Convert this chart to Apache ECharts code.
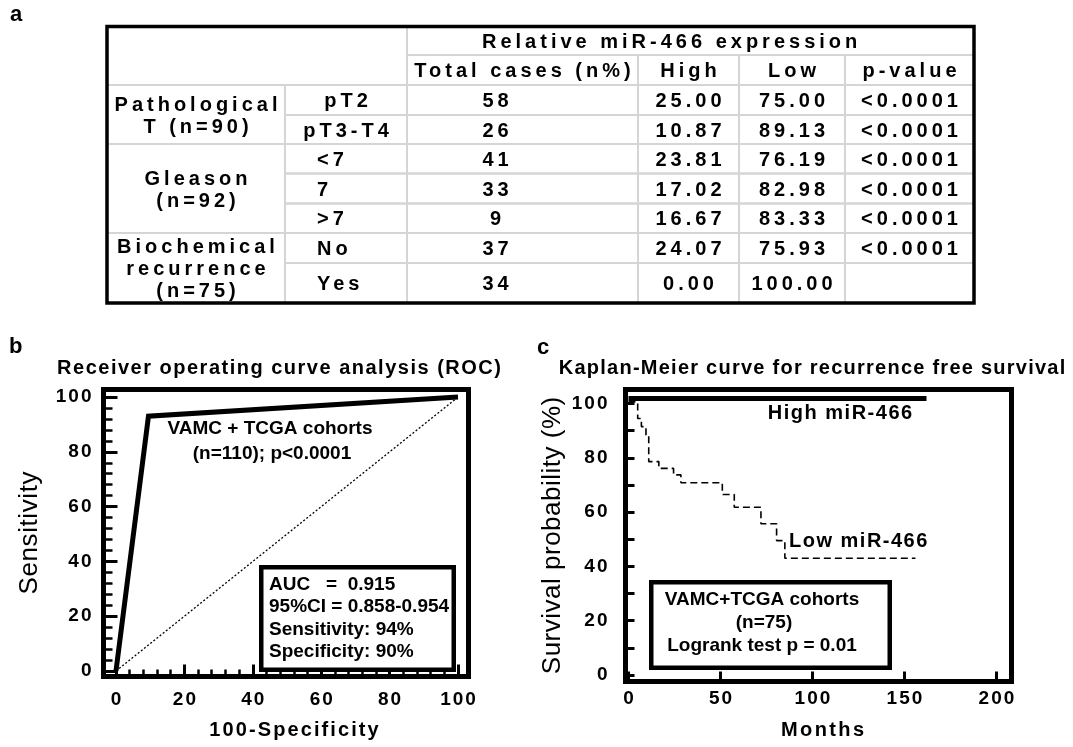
<!DOCTYPE html>
<html><head><meta charset="utf-8">
<script src="https://cdn.jsdelivr.net/npm/echarts@6/dist/echarts.min.js"></script>
<style>html,body{margin:0;padding:0;background:#fff}#c{width:1073px;height:747px}</style>
</head><body><div id="c"></div>
<script>
// ---------------- data ----------------
const tableTitle = 'Relative miR-466 expression';
const columnHeaders = ['Total cases (n%)', 'High', 'Low', 'p-value'];
const groupLabels = ['Pathological\nT (n=90)', 'Gleason\n(n=92)', 'Biochemical\nrecurrence\n(n=75)'];
const groupRowCounts = [2, 3, 2];
const subgroups = ['pT2', 'pT3-T4', '<7', '7', '>7', 'No', 'Yes'];
const totalCases = [58, 26, 41, 33, 9, 37, 34];
const highPct = [25.00, 10.87, 23.81, 17.02, 16.67, 24.07, 0.00];
const lowPct = [75.00, 89.13, 76.19, 82.98, 83.33, 75.93, 100.00];
const pValues = ['<0.0001', '<0.0001', '<0.0001', '<0.0001', '<0.0001', '<0.0001', ''];

const rocFalsePos = [0, 9.5, 100];
const rocSensitivity = [0, 93, 100];
const chanceX = [0, 100];
const chanceY = [0, 100];
const rocTickLabels = [0, 20, 40, 60, 80, 100];
const rocMinorTicks = [4, 8, 12, 16, 24, 28, 32, 36, 44, 48, 52, 56, 64, 68, 72, 76, 84, 88, 92, 96];
const rocStats = ['AUC   =  0.915', '95%CI = 0.858-0.954', 'Sensitivity: 94%', 'Specificity: 90%'];
const rocCohort = ['VAMC + TCGA cohorts', '(n=110); p<0.0001'];

const highMonths = [0, 162];
const highSurvival = [101.8, 101.8];
const lowMonths = [0, 5, 7, 9.5, 11, 16.5, 24.5, 28.5, 51, 57.5, 72, 80.5, 85, 156];
const lowSurvival = [100.7, 94.5, 91.5, 88.4, 78.6, 76.1, 73.7, 70.8, 66.5, 61.8, 55.7, 49.5, 43, 43];
const kmMonthTicks = [0, 50, 100, 150, 200];
const kmSurvivalLabels = [0, 20, 40, 60, 80, 100];
const kmSurvivalTicks = [0, 10, 20, 30, 40, 50, 60, 70, 80, 90, 100];
const kmCohort = ['VAMC+TCGA cohorts', '(n=75)', 'Logrank test p = 0.01'];

// ---------------- text tracking (letter spacing) ----------------
const FONT = '"Liberation Sans", Arial, sans-serif';
const SPACING = {};
function spaced(text, size, px) {
  String(text).split('\n').forEach(t => { SPACING[size + '|' + t] = px; });
  return text;
}
(function () {
  const P = CanvasRenderingContext2D.prototype;
  const orig = P.fillText;
  P.fillText = function (text, x, y) {
    const m = /(\d+(?:\.\d+)?)px/.exec(this.font);
    const px = SPACING[(m ? +m[1] : 0) + '|' + text];
    if (px && ('letterSpacing' in this)) {
      const a = this.textAlign;
      let dx = 0;
      if (a === 'center') dx = px / 2; else if (a === 'right' || a === 'end') dx = px;
      const args = Array.prototype.slice.call(arguments);
      args[1] = x + dx;
      const f = this.font;
      this.save();
      this.letterSpacing = px + 'px';
      this.font = f;
      orig.apply(this, args);
      this.restore();
      this.letterSpacing = '0px';
      this.font = f;
      return;
    }
    return orig.apply(this, arguments);
  };
})();

// ---------------- table layout ----------------
const colEdges = [0, 178, 300, 531, 632, 738, 867];
const rowEdges = [0, 28.5, 58.5, 88.5, 117.5, 147, 177, 206.5, 236.5, 276.5];
const TS = 20, TL = 4;
const cells = [];
function addCell(c0, c1, r0, r1, text, align, dx) {
  const x0 = colEdges[c0], x1 = colEdges[c1];
  const tx = align === 'left' ? x0 + dx : (x0 + x1) / 2 + (dx || 0);
  if (text) spaced(text, TS, TL);
  cells.push({ x0, x1, y0: rowEdges[r0], y1: rowEdges[r1], text, align, tx });
}
addCell(0, 2, 0, 2, '', 'center');
addCell(2, 6, 0, 1, tableTitle, 'left', 75);
columnHeaders.forEach((h, i) => addCell(2 + i, 3 + i, 1, 2, h, 'center'));
let rr = 2, idx = 0;
groupLabels.forEach((g, gi) => {
  addCell(0, 1, rr, rr + groupRowCounts[gi], g, 'center');
  for (let k = 0; k < groupRowCounts[gi]; k++) {
    const r = rr + k;
    if (gi === 0) addCell(1, 2, r, r + 1, subgroups[idx], 'center', 0);
    else addCell(1, 2, r, r + 1, subgroups[idx], 'left', 32);
    addCell(2, 3, r, r + 1, String(totalCases[idx]), 'center', -27);
    addCell(3, 4, r, r + 1, highPct[idx].toFixed(2), 'center');
    addCell(4, 5, r, r + 1, lowPct[idx].toFixed(2), 'center');
    addCell(5, 6, r, r + 1, pValues[idx], 'center');
    idx++;
  }
  rr += groupRowCounts[gi];
});

// ---------------- register spacing for other texts ----------------
[0, 20, 40, 60, 80, 100, 50, 150, 200].forEach(v => spaced(String(v), 19, 2));
const rocTitle = spaced('Receiver operating curve analysis (ROC)', 20, 1.5);
const kmTitle = spaced('Kaplan-Meier curve for recurrence free survival', 20, 1.25);
const rocXName = spaced('100-Specificity', 20, 2.1);
const kmXName = spaced('Months', 20, 2.4);
const highLabel = spaced('High miR-466', 20, 1.5);
const lowLabel = spaced('Low miR-466', 20, 1.5);
const rocYName = spaced('Sensitivity', 26, 0.6);
const kmYName = spaced('Survival probability (%)', 26, 0.5);

const chart = echarts.init(document.getElementById('c'), null, { renderer: 'canvas' });

const tickLabelStyle = { fontSize: 19, fontWeight: 'bold', fontFamily: FONT, color: '#000' };
const nameBold = { fontSize: 20, fontWeight: 'bold', fontFamily: FONT, color: '#000' };
const nameReg = { fontSize: 26, fontWeight: 'normal', fontFamily: FONT, color: '#000' };
function baseAxis(extra) {
  return Object.assign({
    type: 'value', axisLine: { show: false, onZero: false }, splitLine: { show: false },
    axisLabel: { show: false }, axisTick: { show: false }
  }, extra);
}
const ROC = { xmin: -3.65, xmax: 103.07, ymin: -2.0, ymax: 102.74 };
const KM = { xmin: -1.63, xmax: 208.2, ymin: -2.39, ymax: 105.16 };

const txt = (text, x, y, size, align, extra) => ({
  type: 'text', x, y, silent: true,
  style: Object.assign({ text, fontSize: size, fontWeight: 'bold', fontFamily: FONT, fill: '#000',
    align: align || 'center', verticalAlign: 'middle' }, extra || {})
});

const option = {
  animation: false,
  backgroundColor: '#fff',
  title: [
    { text: rocTitle, left: 279, top: 368, textAlign: 'center', textVerticalAlign: 'middle', padding: 0,
      textStyle: { fontSize: 20, fontWeight: 'bold', fontFamily: FONT, color: '#000' } },
    { text: kmTitle, left: 812, top: 368, textAlign: 'center', textVerticalAlign: 'middle', padding: 0,
      textStyle: { fontSize: 20, fontWeight: 'bold', fontFamily: FONT, color: '#000' } }
  ],
  grid: [
    { left: 107, top: 26.5, width: 867, height: 276.5, show: false },
    { left: 103.5, top: 389.5, width: 365, height: 287, show: true, borderColor: '#000', borderWidth: 5, backgroundColor: 'transparent' },
    { left: 625.5, top: 389.5, width: 386, height: 292, show: true, borderColor: '#000', borderWidth: 5, backgroundColor: 'transparent' }
  ],
  xAxis: [
    baseAxis({ gridIndex: 0, min: 0, max: 867, show: false }),
    baseAxis({ gridIndex: 1, min: ROC.xmin, max: ROC.xmax, position: 'bottom',
      axisTick: { show: true, inside: true, length: 12, customValues: rocTickLabels, lineStyle: { color: '#000', width: 3 } },
      axisLabel: Object.assign({ show: true, customValues: rocTickLabels, margin: 14 }, tickLabelStyle),
      name: rocXName, nameLocation: 'middle', nameGap: 44,
      nameTextStyle: Object.assign({ padding: [0, 0, 0, 16] }, nameBold) }),
    baseAxis({ gridIndex: 1, min: ROC.xmin, max: ROC.xmax, position: 'bottom',
      axisTick: { show: true, inside: true, length: 7, customValues: rocMinorTicks, lineStyle: { color: '#000', width: 2.5 } } }),
    baseAxis({ gridIndex: 2, min: KM.xmin, max: KM.xmax, position: 'bottom',
      axisTick: { show: true, inside: true, length: 10, customValues: kmMonthTicks, lineStyle: { color: '#000', width: 3 } },
      axisLabel: Object.assign({ show: true, customValues: kmMonthTicks, margin: 8 }, tickLabelStyle),
      name: kmXName, nameLocation: 'middle', nameGap: 39,
      nameTextStyle: Object.assign({ padding: [0, 0, 0, 8] }, nameBold) })
  ],
  yAxis: [
    baseAxis({ gridIndex: 0, min: 0, max: 276.5, inverse: true, show: false }),
    baseAxis({ gridIndex: 1, min: ROC.ymin, max: ROC.ymax, position: 'left',
      axisTick: { show: true, inside: true, length: 14, customValues: rocTickLabels, lineStyle: { color: '#000', width: 3 } },
      axisLabel: Object.assign({ show: true, customValues: rocTickLabels, margin: 12 }, tickLabelStyle),
      name: rocYName, nameLocation: 'middle', nameGap: 61, nameTextStyle: nameReg }),
    baseAxis({ gridIndex: 1, min: ROC.ymin, max: ROC.ymax, position: 'left',
      axisTick: { show: true, inside: true, length: 9, customValues: rocMinorTicks, lineStyle: { color: '#000', width: 2.5 } } }),
    baseAxis({ gridIndex: 2, min: KM.ymin, max: KM.ymax, position: 'left',
      axisTick: { show: true, inside: true, length: 9, customValues: kmSurvivalTicks, lineStyle: { color: '#000', width: 3 } },
      axisLabel: Object.assign({ show: true, customValues: kmSurvivalLabels, margin: 18 }, tickLabelStyle),
      name: kmYName, nameLocation: 'middle', nameGap: 60, nameTextStyle: nameReg })
  ],
  series: [
    {
      type: 'custom', xAxisIndex: 0, yAxisIndex: 0, silent: true, clip: false,
      encode: { x: [0, 1], y: [2, 3] },
      data: cells.map(c => [c.x0, c.x1, c.y0, c.y1]),
      renderItem: function (params, api) {
        const c = cells[params.dataIndex];
        const a = api.coord([c.x0, c.y0]), b = api.coord([c.x1, c.y1]);
        const els = [{ type: 'rect', shape: { x: a[0], y: a[1], width: b[0] - a[0], height: b[1] - a[1] },
          style: { fill: 'none', stroke: '#d5d5d5', lineWidth: 2 } }];
        if (c.text) {
          els.push({ type: 'text', style: {
            text: c.text, x: api.coord([c.tx, c.y0])[0], y: (a[1] + b[1]) / 2 + 1.5,
            align: c.align, verticalAlign: 'middle', fontSize: TS, fontWeight: 'bold',
            fontFamily: FONT, fill: '#000', lineHeight: 22 } });
        }
        return { type: 'group', children: els };
      }
    },
    {
      type: 'custom', xAxisIndex: 0, yAxisIndex: 0, silent: true, clip: false, z: 5,
      encode: { x: [0, 1], y: [2, 3] },
      data: [[colEdges[0], colEdges[colEdges.length - 1], rowEdges[0], rowEdges[rowEdges.length - 1]]],
      renderItem: function (params, api) {
        const a = api.coord([api.value(0), api.value(2)]), b = api.coord([api.value(1), api.value(3)]);
        return { type: 'rect', shape: { x: a[0], y: a[1], width: b[0] - a[0], height: b[1] - a[1] },
          style: { fill: 'none', stroke: '#000', lineWidth: 3.5 } };
      }
    },
    {
      name: 'ROC', type: 'line', xAxisIndex: 1, yAxisIndex: 1, symbol: 'none', silent: true,
      data: rocFalsePos.map((x, i) => [x, rocSensitivity[i]]),
      lineStyle: { color: '#000', width: 5, join: 'miter' }, z: 3
    },
    {
      name: 'Chance', type: 'line', xAxisIndex: 1, yAxisIndex: 1, symbol: 'none', silent: true,
      data: chanceX.map((x, i) => [x, chanceY[i]]),
      lineStyle: { color: '#000', width: 1.3, type: [2, 2] }, z: 2
    },
    {
      name: 'High miR-466', type: 'line', xAxisIndex: 3, yAxisIndex: 3, symbol: 'none', silent: true,
      data: highMonths.map((x, i) => [x, highSurvival[i]]),
      lineStyle: { color: '#000', width: 5 }, z: 3
    },
    {
      name: 'Low miR-466', type: 'line', xAxisIndex: 3, yAxisIndex: 3, symbol: 'none', silent: true, step: 'end',
      data: lowMonths.map((x, i) => [x, lowSurvival[i]]),
      lineStyle: { color: '#000', width: 1.6, type: [7, 4] }, z: 3
    }
  ],
  graphic: [
    txt('a', 10, 15, 22, 'left'),
    txt('b', 9, 347, 22, 'left'),
    txt('c', 537, 348, 22, 'left'),
    txt(rocCohort[0], 270, 429, 19),
    txt(rocCohort[1], 272, 454, 19),
    { type: 'rect', shape: { x: 261.25, y: 567.25, width: 192.5, height: 102.5 }, style: { fill: '#fff', stroke: '#000', lineWidth: 4.5 }, z: 10 },
    Object.assign(txt(rocStats[0], 269, 584.5, 19, 'left'), { z: 11 }),
    Object.assign(txt(rocStats[1], 269, 607, 19, 'left'), { z: 11 }),
    Object.assign(txt(rocStats[2], 269, 629.5, 19, 'left'), { z: 11 }),
    Object.assign(txt(rocStats[3], 269, 651.5, 19, 'left'), { z: 11 }),
    txt(highLabel, 840, 413, 20),
    txt(lowLabel, 789, 541, 20, 'left'),
    { type: 'rect', shape: { x: 651.25, y: 582.25, width: 238.5, height: 85.5 }, style: { fill: '#fff', stroke: '#000', lineWidth: 4.5 }, z: 10 },
    Object.assign(txt(kmCohort[0], 762, 600, 19), { z: 11 }),
    Object.assign(txt(kmCohort[1], 764, 623, 19), { z: 11 }),
    Object.assign(txt(kmCohort[2], 762, 646, 19), { z: 11 })
  ]
};
chart.setOption(option);
</script>
</body></html>
